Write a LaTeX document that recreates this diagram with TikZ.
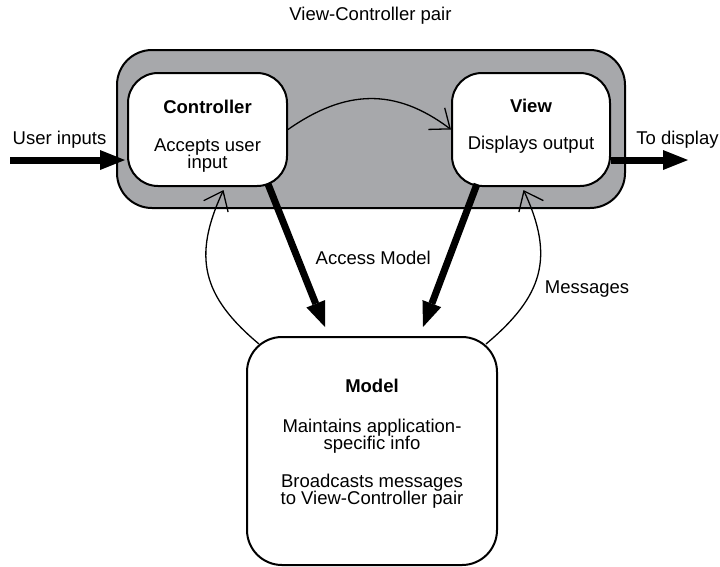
\documentclass[tikz,border=0pt]{standalone}
\usepackage{fontspec}
\setmainfont{Liberation Sans}
\usetikzlibrary{arrows.meta,positioning}
\definecolor{pairgray}{HTML}{A7A8AB}

\begin{document}
\begin{tikzpicture}[
    x=1pt, y=-1pt,
    font=\fontsize{18.5}{17.5}\selectfont,
    box/.style={rectangle, draw, line width=2pt, fill=white, rounded corners=30pt, align=center, inner sep=0pt},
    bigarrow/.style={-{Triangle[length=25pt,width=20pt,line width=0pt]}, line width=7pt},
    thinarrow/.style={-{Straight Barb[length=17pt,width=27pt]}, line width=1.3pt}
]
    \useasboundingbox (0,0) rectangle (720,566);

    % grey frame round the pair
    \node[rectangle, draw, line width=2pt, fill=pairgray, rounded corners=35pt,
          minimum width=508pt, minimum height=158pt] (pair) at (371,129) {};
    \node[anchor=base] (pairlabel) at (370.5,20) {View-Controller pair};

    % the rules only shift the text inside the boxes
    \node[box, minimum width=159pt, minimum height=113pt]
        (ctrl) at (207.5,129.5) {\rule{0pt}{26.4pt}\textbf{Controller}\\[20.5pt]Accepts user\\input};
    \node[box, minimum width=158pt, minimum height=113pt]
        (view) at (531,129.5) {\textbf{View}\\[19.5pt]Displays output\rule[-11.3pt]{0pt}{11.3pt}};
    \node[box, rounded corners=35pt, minimum width=250pt, minimum height=228pt]
        (model) at (372,451) {\textbf{Model}\\[22.5pt]Maintains application-\\specific info\\[20pt]Broadcasts messages\\to View-Controller pair\rule[-18.8pt]{0pt}{18.8pt}};

    % input and output
    \coordinate (inp) at (10,160);
    \coordinate (outp) at (688,160);
    \draw[bigarrow, shorten >=2pt] (inp) -- (inp -| ctrl.west);
    \draw[bigarrow] (view.east |- outp) -- (outp);
    \node[anchor=base] (inlabel) at (59.5,144) {User inputs};
    \node[anchor=base] (outlabel) at (677.5,144) {To display};

    \draw[thinarrow] (ctrl.east) to[out=35, in=143, looseness=1.1] (view.west);

    % access model
    \draw[bigarrow] ([shift={(-20,-3)}]ctrl.south east) -- ([shift={(-47,-9)}]model.north);
    \draw[bigarrow] ([shift={(26,-3)}]view.south west) -- ([shift={(51,-9)}]model.north);
    \node[anchor=base] (access) at (373.3,264) {Access Model};

    % messages back to the pair
    \draw[thinarrow] ([shift={(13,8)}]model.north west) to[out=140, in=245, looseness=1.2] ([shift={(16,3)}]ctrl.south);
    \draw[thinarrow] ([shift={(-12,8)}]model.north east) to[out=40, in=295, looseness=1.2] ([shift={(-7.5,3)}]view.south);
    \node[anchor=base] (msg) at (587,293) {Messages};
\end{tikzpicture}
\end{document}
